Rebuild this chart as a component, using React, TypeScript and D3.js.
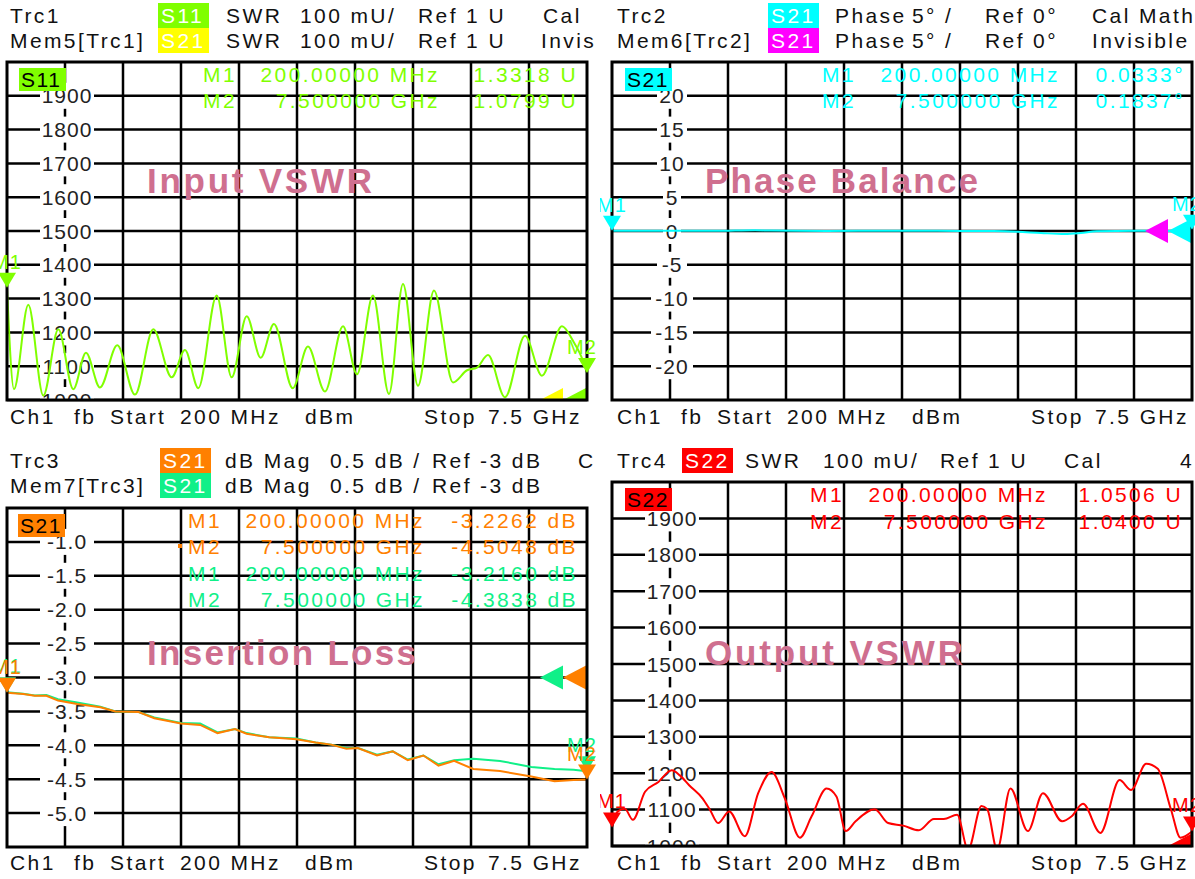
import React from 'react';
import * as d3 from 'd3';

const FONT = '"Liberation Sans", Arial, Helvetica, sans-serif';
const START_GHZ = 0.2;
const STOP_GHZ = 7.5;

// Trc1 S11 SWR (axis units, 1000 = 1.000 U)
const s11Freq = [0.2, 0.288, 0.468, 0.657, 0.846, 1.034, 1.194, 1.37, 1.588, 1.811, 2.041, 2.273, 2.44, 2.608, 2.839, 3.028, 3.217, 3.393, 3.56, 3.796, 3.988, 4.202, 4.429, 4.605, 4.806, 5.008, 5.184, 5.373, 5.574, 5.813, 5.99, 6.115, 6.254, 6.468, 6.72, 6.933, 7.185, 7.324, 7.45, 7.5];
const s11Swr = [1332, 1032, 1282, 1013, 1209, 1032, 1140, 1037, 1162, 1016, 1209, 1067, 1148, 1035, 1309, 1067, 1248, 1125, 1225, 1035, 1158, 1025, 1218, 1076, 1309, 1018, 1343, 1042, 1324, 1052, 1088, 1096, 1133, 1008, 1190, 1072, 1218, 1175, 1116, 1080];

// Trc2 S21 phase balance (deg)
const phaseFreq = [0.2, 0.8, 1.5, 2.0, 2.2, 2.9, 3.6, 4.3, 5.0, 5.3, 5.6, 5.9, 6.1, 6.3, 6.8, 7.2, 7.5];
const phaseDeg = [0.033, 0.05, 0.02, 0.12, 0.06, 0.0, 0.05, 0.02, 0.0, -0.1, -0.3, -0.45, -0.3, -0.05, 0.05, 0.0, 0.184];

// Trc3 / Mem7 S21 dB Mag
const ilFreq = [0.2, 0.404, 0.55, 0.696, 0.842, 1.083, 1.375, 1.565, 1.857, 2.054, 2.39, 2.631, 2.85, 3.069, 3.215, 3.5, 3.843, 4.084, 4.281, 4.471, 4.617, 4.857, 5.055, 5.244, 5.441, 5.631, 5.828, 6.069, 6.405, 6.799, 7.091, 7.332, 7.5];
const ilTrc3 = [-3.226, -3.245, -3.27, -3.27, -3.34, -3.39, -3.44, -3.5, -3.51, -3.6, -3.68, -3.7, -3.82, -3.76, -3.83, -3.88, -3.91, -3.96, -3.99, -4.05, -4.04, -4.15, -4.09, -4.22, -4.15, -4.3, -4.23, -4.35, -4.38, -4.46, -4.53, -4.51, -4.505];
const ilMem7 = [-3.216, -3.24, -3.265, -3.26, -3.32, -3.37, -3.43, -3.5, -3.51, -3.59, -3.67, -3.68, -3.81, -3.76, -3.82, -3.88, -3.9, -3.96, -3.99, -4.04, -4.04, -4.14, -4.09, -4.21, -4.15, -4.28, -4.22, -4.2, -4.23, -4.32, -4.35, -4.36, -4.384];

// Trc4 S22 SWR
const s22Freq = [0.2, 0.273, 0.361, 0.463, 0.616, 0.784, 0.952, 1.054, 1.171, 1.339, 1.434, 1.536, 1.675, 1.872, 2.04, 2.208, 2.375, 2.565, 2.711, 2.901, 3.025, 3.142, 3.266, 3.507, 3.675, 3.865, 4.062, 4.252, 4.376, 4.544, 4.682, 4.85, 4.923, 5.047, 5.215, 5.434, 5.624, 5.865, 5.982, 6.128, 6.347, 6.588, 6.734, 6.923, 7.069, 7.237, 7.354, 7.5];
const s22Swr = [1051, 1095, 1102, 1072, 1149, 1176, 1208, 1194, 1167, 1131, 1099, 1063, 1095, 1027, 1145, 1203, 1131, 1023, 1081, 1158, 1136, 1041, 1068, 1101, 1063, 1056, 1043, 1074, 1074, 1086, 990, 1110, 1101, 990, 1158, 1041, 1145, 1068, 1081, 1116, 1036, 1181, 1154, 1226, 1212, 1099, 1023, 1040];

const swrTicks = [1900, 1800, 1700, 1600, 1500, 1400, 1300, 1200, 1100, 1000];
const phaseTicks = [20, 15, 10, 5, 0, -5, -10, -15, -20];
const ilTicks = [-1.0, -1.5, -2.0, -2.5, -3.0, -3.5, -4.0, -4.5, -5.0];

const footerWords = ['Ch1', 'fb', 'Start', '200 MHz', 'dBm', 'Stop', '7.5 GHz'];
const footerX = [10, 74, 110, 180, 305, 424, 488];

const LIME = '#80ff00';
const YELLOW = '#ffff00';
const CYAN = '#00ffff';
const MAGENTA = '#ff00ff';
const ORANGE = '#ff8000';
const SPRING = '#10f088';
const RED = '#ff0000';
const TITLE = '#cf6f8f';

const last = (a: number[]) => a[a.length - 1];

const panels = [
  {
    id: 'tl', col: [0, 598], off: 0, x0: 7, x1: 587, y0: 62, y1: 400, domain: [1000, 2000],
    ticks: swrTicks, fmt: (v: number) => String(v), footY: 424, boxX: 158,
    header: [
      { y: 23, label: 'Trc1', box: 'S11', c: LIME, words: [['SWR', 226], ['100 mU/', 300], ['Ref 1 U', 418], ['Cal', 543]] },
      { y: 48, label: 'Mem5[Trc1]', box: 'S21', c: YELLOW, words: [['SWR', 226], ['100 mU/', 300], ['Ref 1 U', 418], ['Invis', 541]] },
    ],
    badge: { t: 'S11', c: LIME, x: 19, y: 68 },
    traces: [{ f: s11Freq, v: s11Swr, c: LIME, curve: d3.curveMonotoneX }],
    refs: [{ c: YELLOW, v: 1000, slot: 1 }, { c: LIME, v: 1000, slot: 0 }],
    markers: [
      { c: LIME, f: START_GHZ, v: s11Swr[0], name: 'M1' },
      { c: LIME, f: STOP_GHZ, v: last(s11Swr), name: 'M2' },
    ],
    readout: { mx: 203, fx: 440, vx: 578, ys: [82, 108], dot: -1, rows: [
      [LIME, 'M1', '200.00000 MHz', '1.3318 U'],
      [LIME, 'M2', '7.500000 GHz', '1.0799 U'],
    ] },
    title: { t: 'Input VSWR', x: 147, y: 193, len: 225 },
  },
  {
    id: 'tr', col: [600, 1195], off: 607, x0: 612, x1: 1192, y0: 62, y1: 400, domain: [-25, 25],
    ticks: phaseTicks, fmt: (v: number) => String(v), footY: 424, boxX: 768,
    header: [
      { y: 23, label: 'Trc2', box: 'S21', c: CYAN, words: [['Phase', 835], ['5° /', 912], ['Ref 0°', 985], ['Cal Math', 1092]] },
      { y: 48, label: 'Mem6[Trc2]', box: 'S21', c: MAGENTA, words: [['Phase', 835], ['5° /', 912], ['Ref 0°', 985], ['Invisible', 1092]] },
    ],
    badge: { t: 'S21', c: CYAN, x: 625, y: 68 },
    traces: [{ f: phaseFreq, v: phaseDeg, c: CYAN, curve: d3.curveMonotoneX }],
    refs: [{ c: MAGENTA, v: 0, slot: 1 }, { c: CYAN, v: 0, slot: 0 }],
    markers: [
      { c: CYAN, f: START_GHZ, v: phaseDeg[0], name: 'M1' },
      { c: CYAN, f: STOP_GHZ, v: last(phaseDeg), name: 'M2' },
    ],
    readout: { mx: 822, fx: 1060, vx: 1185, ys: [82, 108], dot: -1, rows: [
      [CYAN, 'M1', '200.00000 MHz', '0.0333°'],
      [CYAN, 'M2', '7.500000 GHz', '0.1837°'],
    ] },
    title: { t: 'Phase Balance', x: 705, y: 193, len: 273 },
  },
  {
    id: 'bl', col: [0, 598], off: 0, x0: 7, x1: 587, y0: 508, y1: 847, domain: [-5.5, -0.5],
    ticks: ilTicks, fmt: (v: number) => v.toFixed(1), footY: 870, boxX: 160,
    header: [
      { y: 468, label: 'Trc3', box: 'S21', c: ORANGE, words: [['dB Mag', 225], ['0.5 dB /', 330], ['Ref -3 dB', 432], ['C', 578]] },
      { y: 493, label: 'Mem7[Trc3]', box: 'S21', c: SPRING, words: [['dB Mag', 225], ['0.5 dB /', 330], ['Ref -3 dB', 432]] },
    ],
    badge: { t: 'S21', c: ORANGE, x: 18, y: 514 },
    traces: [
      { f: ilFreq, v: ilMem7, c: SPRING, curve: d3.curveLinear },
      { f: ilFreq, v: ilTrc3, c: ORANGE, curve: d3.curveLinear },
    ],
    refs: [{ c: SPRING, v: -3, slot: 1 }, { c: ORANGE, v: -3, slot: 0 }],
    markers: [
      { c: SPRING, f: START_GHZ, v: ilMem7[0], name: 'M1' },
      { c: ORANGE, f: START_GHZ, v: ilTrc3[0], name: 'M1' },
      { c: SPRING, f: STOP_GHZ, v: last(ilMem7), name: 'M2' },
      { c: ORANGE, f: STOP_GHZ, v: last(ilTrc3), name: 'M2' },
    ],
    readout: { mx: 188, fx: 425, vx: 578, ys: [528, 554, 581, 607], dot: 1, rows: [
      [ORANGE, 'M1', '200.00000 MHz', '-3.2262 dB'],
      [ORANGE, 'M2', '7.500000 GHz', '-4.5048 dB'],
      [SPRING, 'M1', '200.00000 MHz', '-3.2160 dB'],
      [SPRING, 'M2', '7.500000 GHz', '-4.3838 dB'],
    ] },
    title: { t: 'Insertion Loss', x: 147, y: 665, len: 269 },
  },
  {
    id: 'br', col: [600, 1195], off: 607, x0: 612, x1: 1192, y0: 482, y1: 846, domain: [1000, 2000],
    ticks: swrTicks, fmt: (v: number) => String(v), footY: 870, boxX: 682,
    header: [
      { y: 468, label: 'Trc4', box: 'S22', c: RED, words: [['SWR', 745], ['100 mU/', 823], ['Ref 1 U', 940], ['Cal', 1064], ['4', 1180]] },
    ],
    badge: { t: 'S22', c: RED, x: 625, y: 488 },
    traces: [{ f: s22Freq, v: s22Swr, c: RED, curve: d3.curveMonotoneX }],
    refs: [{ c: RED, v: 1000, slot: 0 }],
    markers: [
      { c: RED, f: START_GHZ, v: s22Swr[0], name: 'M1' },
      { c: RED, f: STOP_GHZ, v: last(s22Swr), name: 'M2' },
    ],
    readout: { mx: 810, fx: 1048, vx: 1183, ys: [502, 529], dot: -1, rows: [
      [RED, 'M1', '200.00000 MHz', '1.0506 U'],
      [RED, 'M2', '7.500000 GHz', '1.0400 U'],
    ] },
    title: { t: 'Output VSWR', x: 705, y: 665, len: 258 },
  },
];

const txt = { fontFamily: FONT, fontSize: 21, letterSpacing: 2.4 } as const;

function Panel({ p }: { p: any }) {
  const x = d3.scaleLinear().domain([START_GHZ, STOP_GHZ]).range([p.x0, p.x1]);
  const y = d3.scaleLinear().domain(p.domain).range([p.y1, p.y0]);
  const vlines = d3.range(1, 10).map(i => x(START_GHZ + (i * (STOP_GHZ - START_GHZ)) / 10));
  const axisX = vlines[0];
  const plotClip = `plot-${p.id}`;
  const colClip = `col-${p.id}`;
  const ro = p.readout;

  return (
    <g>
      <defs>
        <clipPath id={plotClip}>
          <rect x={p.x0} y={p.y0} width={p.x1 - p.x0} height={p.y1 - p.y0} />
        </clipPath>
        <clipPath id={colClip}>
          <rect x={p.col[0]} y={p.y0 - 60} width={p.col[1] - p.col[0]} height={p.y1 - p.y0 + 70} />
        </clipPath>
      </defs>

      {/* grid */}
      {vlines.map((vx, i) => (
        <line key={`v${i}`} x1={vx} x2={vx} y1={p.y0} y2={p.y1} stroke="#000" strokeWidth={2.5} />
      ))}
      {p.ticks.map((t: number) => (
        <line key={`h${t}`} x1={p.x0} x2={p.x1} y1={y(t)} y2={y(t)} stroke="#000" strokeWidth={2.5} />
      ))}

      {/* y labels */}
      <g clipPath={`url(#${plotClip})`}>
        {p.ticks.map((t: number) => {
          const s = p.fmt(t);
          const w = s.length * 12 + 6;
          return (
            <g key={`l${t}`}>
              <rect x={axisX + 2 - w / 2} y={y(t) - 13} width={w} height={26} fill="#fff" />
              <text x={axisX + 2} y={y(t) + 7.5} textAnchor="middle" fontFamily={FONT} fontSize={21} letterSpacing={1} fill="#222">
                {s}
              </text>
            </g>
          );
        })}
      </g>

      {/* marker readouts */}
      {ro.rows.map((r: string[], i: number) => (
        <g key={`r${i}`} fill={r[0]} {...txt}>
          <text x={ro.mx} y={ro.ys[i]}>{r[1]}</text>
          <text x={ro.fx} y={ro.ys[i]} textAnchor="end">{r[2]}</text>
          <text x={ro.vx} y={ro.ys[i]} textAnchor="end">{r[3]}</text>
          {ro.dot === i && <rect x={ro.mx - 10} y={ro.ys[i] - 10} width={4} height={4} fill={r[0]} />}
        </g>
      ))}

      {/* overlay title */}
      <text x={p.title.x} y={p.title.y} fontFamily={FONT} fontWeight="bold" fontSize={35} fill={TITLE}
        textLength={p.title.len} lengthAdjust="spacing">
        {p.title.t}
      </text>

      {/* traces */}
      <g clipPath={`url(#${plotClip})`}>
        {p.traces.map((tr: any, i: number) => {
          const line = d3.line<number>()
            .x((_, k) => x(tr.f[k]))
            .y(v => y(v))
            .curve(tr.curve);
          return <path key={`t${i}`} d={line(tr.v) || ''} fill="none" stroke={tr.c} strokeWidth={2} />;
        })}
        {p.refs.map((r: any, i: number) => {
          const tip = p.x1 - 24 - r.slot * 23;
          const ry = y(r.v);
          return (
            <polygon key={`ref${i}`} fill={r.c}
              points={`${tip},${ry} ${tip + 23},${ry - 12} ${tip + 23},${ry + 12}`} />
          );
        })}
      </g>

      {/* border */}
      <rect x={p.x0} y={p.y0} width={p.x1 - p.x0} height={p.y1 - p.y0} fill="none" stroke="#000" strokeWidth={3} />

      {/* badge */}
      <rect x={p.badge.x} y={p.badge.y} width={47} height={23} fill={p.badge.c} />
      <text x={p.badge.x + 2} y={p.badge.y + 19} fontFamily={FONT} fontSize={21} letterSpacing={1.5} fill="#000">
        {p.badge.t}
      </text>

      {/* markers */}
      <g clipPath={`url(#${colClip})`}>
        {p.markers.map((m: any, i: number) => {
          const mx = x(m.f);
          const my = y(m.v);
          const lx = m.name === 'M2' ? mx - 5 : mx;
          return (
            <g key={`m${i}`} fill={m.c}>
              <polygon points={`${mx},${my} ${mx - 9},${my - 15} ${mx + 9},${my - 15}`} />
              <text x={lx} y={my - 19} textAnchor="middle" fontFamily={FONT} fontSize={20} letterSpacing={1}>
                {m.name}
              </text>
            </g>
          );
        })}
      </g>

      {/* header */}
      {p.header.map((h: any, i: number) => (
        <g key={`hd${i}`} {...txt} fill="#111">
          <text x={p.off + 10} y={h.y}>{h.label}</text>
          <rect x={p.boxX} y={h.y - 20} width={51} height={25} fill={h.c} />
          <text x={p.boxX + 3} y={h.y} fill="#fff">{h.box}</text>
          {h.words.map((w: any) => (
            <text key={w[0] + w[1]} x={w[1]} y={h.y}>{w[0]}</text>
          ))}
        </g>
      ))}

      {/* footer */}
      <g {...txt} fill="#111">
        {footerWords.map((w, i) => (
          <text key={w} x={p.off + footerX[i]} y={p.footY}>{w}</text>
        ))}
      </g>
    </g>
  );
}

export default function App() {
  return (
    <svg width={1195} height={879} style={{ position: 'absolute', left: 0, top: 0, background: '#fff' }}>
      <rect width={1195} height={879} fill="#fff" />
      {panels.map(p => (
        <Panel key={p.id} p={p} />
      ))}
    </svg>
  );
}
